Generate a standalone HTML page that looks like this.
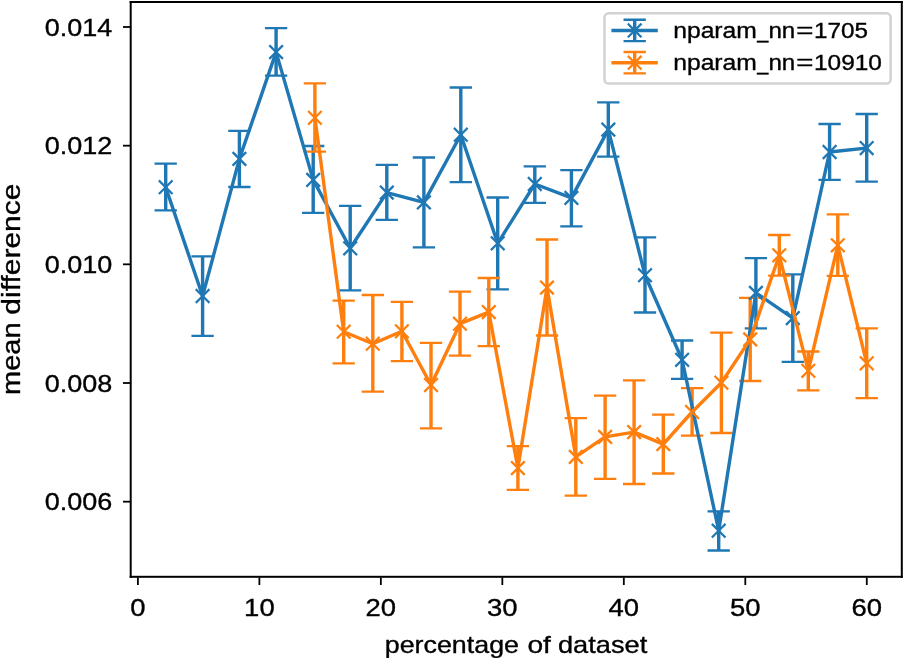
<!DOCTYPE html>
<html lang="en">
<head>
<meta charset="utf-8">
<title>mean difference vs percentage of dataset</title>
<style>
html,body{margin:0;padding:0;background:#ffffff;}
body{width:904px;height:658px;overflow:hidden;}
svg{display:block;}
text{font-family:"Liberation Sans",sans-serif;fill:#000000;stroke:#000000;stroke-width:0.35px;}
svg{will-change:transform;}
</style>
</head>
<body>
<svg width="904" height="658" viewBox="0 0 904 658">
<rect x="0" y="0" width="904" height="658" fill="#ffffff"/>

<g id="errorbars">
<path d="M165.7 163.7V210.4M202.6 256.3V335.9M239.4 130.8V187.0M276.1 28.2V75.7M313.2 146.0V212.9M350.2 205.9V290.4M386.8 164.9V219.9M423.9 157.5V247.4M460.8 87.5V182.2M497.7 197.5V289.3M534.8 166.4V202.8M571.4 170.2V226.4M608.3 102.4V156.6M645.0 237.3V312.5M682.1 340.5V378.8M718.7 511.4V550.5M755.9 258.2V328.4M792.8 274.4V361.9M829.6 124.0V179.9M866.7 114.0V181.7" stroke="#1f77b4" stroke-width="3.4" fill="none"/>
<path d="M155.7 163.7h20M155.7 210.4h20M192.6 256.3h20M192.6 335.9h20M229.4 130.8h20M229.4 187.0h20M266.1 28.2h20M266.1 75.7h20M303.2 146.0h20M303.2 212.9h20M340.2 205.9h20M340.2 290.4h20M376.8 164.9h20M376.8 219.9h20M413.9 157.5h20M413.9 247.4h20M450.8 87.5h20M450.8 182.2h20M487.7 197.5h20M487.7 289.3h20M524.8 166.4h20M524.8 202.8h20M561.4 170.2h20M561.4 226.4h20M598.3 102.4h20M598.3 156.6h20M635.0 237.3h20M635.0 312.5h20M672.1 340.5h20M672.1 378.8h20M708.7 511.4h20M708.7 550.5h20M745.9 258.2h20M745.9 328.4h20M782.8 274.4h20M782.8 361.9h20M819.6 124.0h20M819.6 179.9h20M856.7 114.0h20M856.7 181.7h20" stroke="#1f77b4" stroke-width="2.3" stroke-linecap="square" fill="none"/>
<path d="M314.9 83.3V151.7M343.7 300.6V363.4M372.8 295.0V391.7M401.9 301.9V361.2M431.0 342.9V428.3M460.0 291.6V355.7M488.8 278.0V346.1M517.9 446.1V489.9M547.0 239.5V335.5M575.8 418.2V495.6M605.1 395.7V478.8M634.1 380.3V484.0M663.3 414.6V473.5M692.1 388.1V435.7M721.4 332.7V433.0M750.2 297.8V381.0M779.3 235.0V275.7M808.3 351.5V390.3M837.8 214.3V275.9M866.7 328.4V398.1" stroke="#ff7f0e" stroke-width="3.4" fill="none"/>
<path d="M304.9 83.3h20M304.9 151.7h20M333.7 300.6h20M333.7 363.4h20M362.8 295.0h20M362.8 391.7h20M391.9 301.9h20M391.9 361.2h20M421.0 342.9h20M421.0 428.3h20M450.0 291.6h20M450.0 355.7h20M478.8 278.0h20M478.8 346.1h20M507.9 446.1h20M507.9 489.9h20M537.0 239.5h20M537.0 335.5h20M565.8 418.2h20M565.8 495.6h20M595.1 395.7h20M595.1 478.8h20M624.1 380.3h20M624.1 484.0h20M653.3 414.6h20M653.3 473.5h20M682.1 388.1h20M682.1 435.7h20M711.4 332.7h20M711.4 433.0h20M740.2 297.8h20M740.2 381.0h20M769.3 235.0h20M769.3 275.7h20M798.3 351.5h20M798.3 390.3h20M827.8 214.3h20M827.8 275.9h20M856.7 328.4h20M856.7 398.1h20" stroke="#ff7f0e" stroke-width="2.3" stroke-linecap="square" fill="none"/>
</g>
<g id="lines">
<polyline points="165.7,187.2 202.6,296.0 239.4,158.9 276.1,52.1 313.2,179.9 350.2,248.3 386.8,192.6 423.9,202.4 460.8,134.7 497.7,243.3 534.8,184.0 571.4,197.9 608.3,129.6 645.0,275.2 682.1,359.8 718.7,530.7 755.9,292.9 792.8,318.1 829.6,152.0 866.7,148.1" stroke="#1f77b4" stroke-width="3.4" fill="none" stroke-linejoin="round" stroke-linecap="square"/>
<path d="M159.7 181.2l12 12M159.7 193.2l12 -12M196.6 290.0l12 12M196.6 302.0l12 -12M233.4 152.9l12 12M233.4 164.9l12 -12M270.1 46.1l12 12M270.1 58.1l12 -12M307.2 173.9l12 12M307.2 185.9l12 -12M344.2 242.3l12 12M344.2 254.3l12 -12M380.8 186.6l12 12M380.8 198.6l12 -12M417.9 196.4l12 12M417.9 208.4l12 -12M454.8 128.7l12 12M454.8 140.7l12 -12M491.7 237.3l12 12M491.7 249.3l12 -12M528.8 178.0l12 12M528.8 190.0l12 -12M565.4 191.9l12 12M565.4 203.9l12 -12M602.3 123.6l12 12M602.3 135.6l12 -12M639.0 269.2l12 12M639.0 281.2l12 -12M676.1 353.8l12 12M676.1 365.8l12 -12M712.7 524.7l12 12M712.7 536.7l12 -12M749.9 286.9l12 12M749.9 298.9l12 -12M786.8 312.1l12 12M786.8 324.1l12 -12M823.6 146.0l12 12M823.6 158.0l12 -12M860.7 142.1l12 12M860.7 154.1l12 -12" stroke="#1f77b4" stroke-width="2.3" stroke-linecap="square" fill="none"/>
<polyline points="314.9,117.8 343.7,331.7 372.8,343.7 401.9,331.3 431.0,385.0 460.0,323.7 488.8,312.1 517.9,468.1 547.0,287.6 575.8,456.9 605.1,436.9 634.1,432.1 663.3,444.1 692.1,412.0 721.4,382.7 750.2,339.4 779.3,255.3 808.3,370.8 837.8,245.3 866.7,363.3" stroke="#ff7f0e" stroke-width="3.4" fill="none" stroke-linejoin="round" stroke-linecap="square"/>
<path d="M308.9 111.8l12 12M308.9 123.8l12 -12M337.7 325.7l12 12M337.7 337.7l12 -12M366.8 337.7l12 12M366.8 349.7l12 -12M395.9 325.3l12 12M395.9 337.3l12 -12M425.0 379.0l12 12M425.0 391.0l12 -12M454.0 317.7l12 12M454.0 329.7l12 -12M482.8 306.1l12 12M482.8 318.1l12 -12M511.9 462.1l12 12M511.9 474.1l12 -12M541.0 281.6l12 12M541.0 293.6l12 -12M569.8 450.9l12 12M569.8 462.9l12 -12M599.1 430.9l12 12M599.1 442.9l12 -12M628.1 426.1l12 12M628.1 438.1l12 -12M657.3 438.1l12 12M657.3 450.1l12 -12M686.1 406.0l12 12M686.1 418.0l12 -12M715.4 376.7l12 12M715.4 388.7l12 -12M744.2 333.4l12 12M744.2 345.4l12 -12M773.3 249.3l12 12M773.3 261.3l12 -12M802.3 364.8l12 12M802.3 376.8l12 -12M831.8 239.3l12 12M831.8 251.3l12 -12M860.7 357.3l12 12M860.7 369.3l12 -12" stroke="#ff7f0e" stroke-width="2.3" stroke-linecap="square" fill="none"/>
</g>
<g id="spines" fill="#000000">
<rect x="129.7" y="1" width="2" height="576.8"/>
<rect x="900.8" y="1" width="2" height="576.8"/>
<rect x="129.7" y="1" width="773.1" height="2"/>
<rect x="129.7" y="575.8" width="773.1" height="2"/>
</g>
<g id="ticks" stroke="#000000" stroke-width="1.8" fill="none">
<path d="M123 27.00H130.5"/>
<path d="M123 145.67H130.5"/>
<path d="M123 264.33H130.5"/>
<path d="M123 383.00H130.5"/>
<path d="M123 501.67H130.5"/>
<path d="M137.90 577.5V585"/>
<path d="M259.38 577.5V585"/>
<path d="M380.86 577.5V585"/>
<path d="M502.34 577.5V585"/>
<path d="M623.82 577.5V585"/>
<path d="M745.30 577.5V585"/>
<path d="M866.78 577.5V585"/>
</g>
<g id="ticklabels" font-size="24.3">
<text x="44.75" y="35.75" textLength="67.51" lengthAdjust="spacingAndGlyphs">0.014</text>
<text x="44.75" y="154.42" textLength="67.51" lengthAdjust="spacingAndGlyphs">0.012</text>
<text x="44.75" y="273.08" textLength="67.51" lengthAdjust="spacingAndGlyphs">0.010</text>
<text x="44.75" y="391.75" textLength="67.51" lengthAdjust="spacingAndGlyphs">0.008</text>
<text x="44.75" y="510.42" textLength="67.51" lengthAdjust="spacingAndGlyphs">0.006</text>
<text x="130.27" y="615.8" textLength="15.27" lengthAdjust="spacingAndGlyphs">0</text>
<text x="244.11" y="615.8" textLength="30.54" lengthAdjust="spacingAndGlyphs">10</text>
<text x="365.59" y="615.8" textLength="30.54" lengthAdjust="spacingAndGlyphs">20</text>
<text x="487.07" y="615.8" textLength="30.54" lengthAdjust="spacingAndGlyphs">30</text>
<text x="608.55" y="615.8" textLength="30.54" lengthAdjust="spacingAndGlyphs">40</text>
<text x="730.03" y="615.8" textLength="30.54" lengthAdjust="spacingAndGlyphs">50</text>
<text x="851.51" y="615.8" textLength="30.54" lengthAdjust="spacingAndGlyphs">60</text>
</g>
<text id="xlabel" y="652.5" font-size="23.8"><tspan x="384.77" textLength="134.22" lengthAdjust="spacingAndGlyphs">percentage</tspan> <tspan x="527.42" textLength="23.44" lengthAdjust="spacingAndGlyphs">of</tspan> <tspan x="557.96" textLength="89.24" lengthAdjust="spacingAndGlyphs">dataset</tspan></text>
<text id="ylabel" transform="translate(20.1 393) rotate(-90)" y="0" font-size="26.6"><tspan x="-1.92" textLength="72.51" lengthAdjust="spacingAndGlyphs">mean</tspan> <tspan x="78.35" textLength="130.98" lengthAdjust="spacingAndGlyphs">difference</tspan></text>
<g id="legend">
<rect x="604.5" y="13.3" width="286.1" height="70.3" rx="4.2" ry="4.2" fill="#ffffff" fill-opacity="0.8" stroke="#d2d2d2" stroke-width="2.5"/>
<path d="M634.7 19.75V41.15" stroke="#1f77b4" stroke-width="3.4" fill="none"/>
<path d="M624.7 19.75h20M624.7 41.15h20" stroke="#1f77b4" stroke-width="2.3" stroke-linecap="square" fill="none"/>
<path d="M611.4 30.45H657.8" stroke="#1f77b4" stroke-width="3.4" fill="none"/>
<path d="M628.7 24.45l12 12M628.7 36.45l12 -12" stroke="#1f77b4" stroke-width="2.3" stroke-linecap="square" fill="none"/>
<path d="M634.7 52.00V73.40" stroke="#ff7f0e" stroke-width="3.4" fill="none"/>
<path d="M624.7 52.00h20M624.7 73.40h20" stroke="#ff7f0e" stroke-width="2.3" stroke-linecap="square" fill="none"/>
<path d="M611.4 62.70H657.8" stroke="#ff7f0e" stroke-width="3.4" fill="none"/>
<path d="M628.7 56.70l12 12M628.7 68.70l12 -12" stroke="#ff7f0e" stroke-width="2.3" stroke-linecap="square" fill="none"/>
<text y="37.7" font-size="21.3"><tspan x="673.26" textLength="83.56" lengthAdjust="spacingAndGlyphs">nparam</tspan><tspan x="757.30" textLength="11.07" lengthAdjust="spacingAndGlyphs">_</tspan><tspan x="768.40" textLength="26.76" lengthAdjust="spacingAndGlyphs">nn</tspan><tspan x="796.16" textLength="17.19" lengthAdjust="spacingAndGlyphs">=</tspan><tspan x="814.05" textLength="53.97" lengthAdjust="spacingAndGlyphs">1705</tspan></text>
<text y="70.2" font-size="21.3"><tspan x="673.26" textLength="83.56" lengthAdjust="spacingAndGlyphs">nparam</tspan><tspan x="757.30" textLength="11.07" lengthAdjust="spacingAndGlyphs">_</tspan><tspan x="768.40" textLength="26.76" lengthAdjust="spacingAndGlyphs">nn</tspan><tspan x="796.16" textLength="17.19" lengthAdjust="spacingAndGlyphs">=</tspan><tspan x="814.04" textLength="67.91" lengthAdjust="spacingAndGlyphs">10910</tspan></text>
</g>
</svg>
</body>
</html>
